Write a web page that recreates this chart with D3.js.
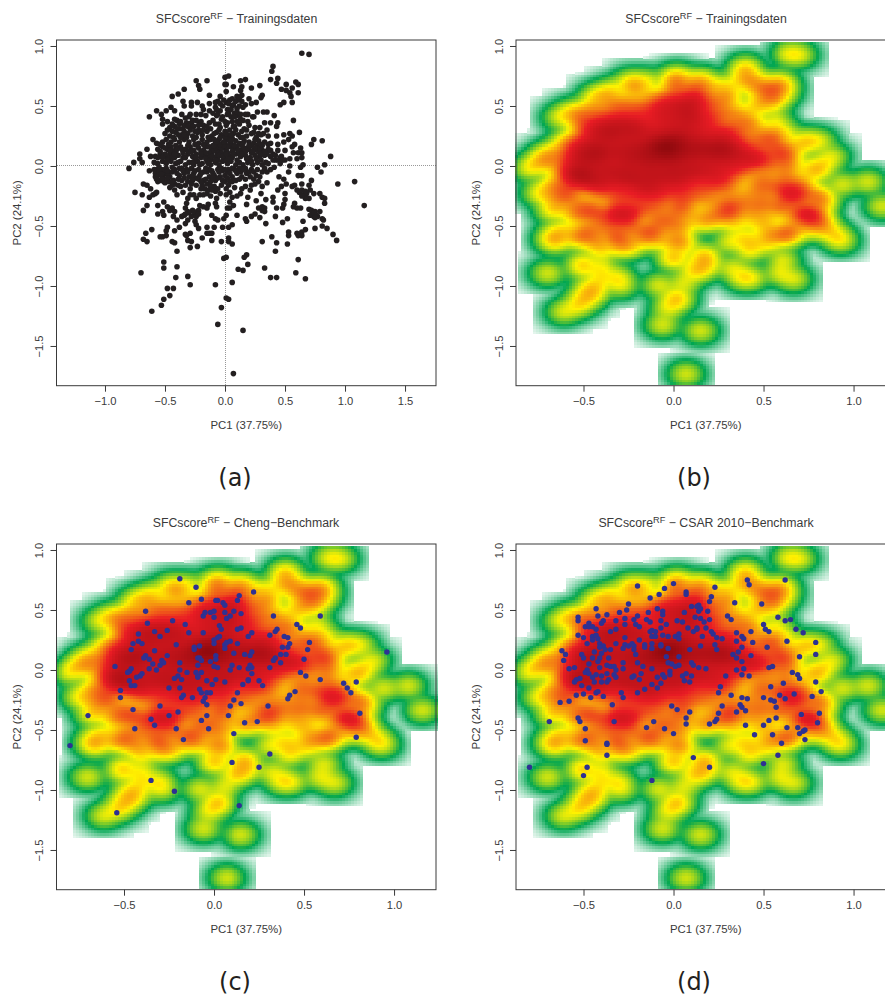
<!DOCTYPE html>
<html>
<head>
<meta charset="utf-8">
<script src="https://d3js.org/d3.v7.min.js"></script>
<style>
body { margin: 0; background: #fff; }
svg { display: block; }
text { font-family: "Liberation Sans", Arial, sans-serif; fill: #3a3a3a; }
.axis text { font-size: 11.2px; }
.axis line { stroke: #3a3a3a; }
.axis path { display: none; }
.title { font-size: 12.3px; }
.tag { font-family: "DejaVu Sans", sans-serif; font-size: 24px; fill: #231f20; }
</style>
</head>
<body>
<div id="chart"></div>
<script>
// PC1, PC2 of the training set
const trainPoints = [
[-.24,.71],[-.15,.71],[-.22,.67],[-.21,.64],[-.34,.64],[-.39,.6],[-.44,.58],[-.13,.59],[0,.74],[.03,.75],[0,.68],[-.63,.41],[-.57,.46],[-.49,.46],[-.45,.49],[-.42,.46],[-.53,.43],[-.52,.39],[-.48,.37],[-.52,.35],[-.35,.54],[-.34,.5],[-.28,.53],[-.28,.5],[-.23,.53],[-.36,.43],[-.29,.43],[-.3,.41],[-.24,.43],[-.19,.5],[-.18,.47],[-.2,.43],[-.13,.52],[-.08,.49],[-.04,.58],[-.06,.54],[-.01,.55],[-.08,.53],[-.4,.38],[-.42,.33],[-.38,.35],[-.32,.36],[-.35,.31],[-.29,.32],[-.28,.36],[-.21,.36],[-.16,.42],
[-.8,-.02],[-.76,.03],[-.71,.1],[-.71,.06],[-.69,.03],[-.65,.14],[-.62,.08],[-.6,.22],[-.57,.19],[-.63,-.04],[-.57,-.03],[-.58,-.09],[-.56,-.13],[-.5,-.14],[-.68,-.15],[-.65,-.16],[-.62,-.19],[-.75,-.22],[-.69,-.24],[-.58,-.23],[-.63,-.26],[-.6,-.24],[-.57,-.22],
[.4,.83],[.39,.79],[.38,.72],[.44,.73],[.43,.69],[.51,.68],[.47,.64],[.51,.63],[.56,.65],[.59,.7],[.61,.68],[.61,.61],[.54,.61],[.55,.58],[.49,.53],[.46,.51],[.56,.53],[.57,.38],[.62,.28],[.81,.21],[.74,.22],[.72,.18],[.29,.67],[.22,.65],[.17,.72],[.13,.71],[.14,.66],[.07,.66],[.01,.68],[.01,.62],[.13,.63],[.14,.59],[.2,.56],[.31,.59],[.3,.57],[.26,.53],[.22,.52],[.17,.51],[.15,.49],[.1,.58],[.11,.55],[.07,.51],[.04,.55],[.01,.53],
[.32,.45],[.35,.45],[.27,.45],[.41,.42],[.24,.41],[.19,.43],[.17,.43],[.08,.44],[.33,.36],[.38,.36],[.44,.36],[.29,.32],[.43,.33],[.35,.3],[.28,.27],[.36,.25],[.32,.27],[.43,.25],[.49,.26],[.54,.27],[.56,.25],[.49,.2],[.53,.22],[.44,.18],[.58,.18],[.56,.16],[.63,.15],[.44,.13],[.5,.13],[.38,.19],[.36,.18],[.57,.11],[.61,.11],[.64,.11],[.64,.07],[.6,.06],[.54,.06],[.5,.05],[.46,.07],[.42,.05],[.65,.01],[.63,-.01],[.83,.01],[.77,-.01],[.88,.08],
[.64,.94],[.7,.93],[.8,-.05],[.94,-.15],[1.08,-.13],[1.16,-.33],[.72,-.12],
[-.68,-.37],[-.65,-.33],[-.56,-.33],[-.56,-.4],[-.52,-.38],[-.51,-.41],[-.51,-.3],[-.48,-.34],[-.46,-.37],[-.44,-.35],[-.42,-.38],[-.43,-.42],[-.4,-.45],[-.36,-.42],[-.34,-.41],[-.31,-.27],[-.29,-.19],[-.26,-.24],[-.24,-.27],[-.21,-.24],[-.17,-.19],[-.15,-.23],[-.14,-.2],[-.32,-.31],[-.33,-.35],[-.31,-.38],[-.27,-.37],[-.25,-.4],[-.22,-.37],[-.21,-.33],[-.18,-.34],[-.14,-.32],[-.15,-.35],[-.08,-.31],[-.07,-.34],[-.07,-.27],[-.08,-.21],[-.09,-.17],[-.06,-.19],[.01,-.19],[.01,-.24],[.06,-.26],[.04,-.3],[.07,-.33],[.04,-.35],[.02,-.35],[-.11,-.41],[-.08,-.44],[-.06,-.45],[-.01,-.44],[.01,-.41],[.1,-.41],[.17,-.44],[.18,-.46],[.22,-.42],[.25,-.4],[.29,-.43],[.18,-.32],[.19,-.26],[.26,-.29],[.34,-.28],[.28,-.35],[.31,-.34],[.31,-.37],[.33,-.35],[.33,-.38],[.42,-.42],[.34,-.48],[.43,-.35],[.48,-.35],[.49,-.32],[.4,-.26],[.4,-.3],[.5,-.28],[.5,-.23],[.44,-.2],[.47,-.17],[.51,-.15],[.56,-.17],[.58,-.16],[.64,-.15],[.7,-.16],[.64,-.08],[.61,-.08],[.53,-.05],[.54,0],[.45,-.09],[.49,-.11],
[.64,-.2],[.68,-.23],[.71,-.2],[.74,-.23],[.7,-.27],[.67,-.27],[.79,-.23],[.81,-.26],[.83,-.27],[.83,-.31],[.58,-.31],[.57,-.34],[.6,-.35],[.63,-.35],[.7,-.36],[.72,-.37],[.75,-.38],[.79,-.38],[.71,-.41],[.74,-.42],[.77,-.42],[.81,-.44],[.82,-.45],[.65,-.46],[.81,-.5],[.85,-.52],[.9,-.57],[.93,-.62],[.52,-.44],[.48,-.47],[.75,-.52],[.67,-.53],[.64,-.55],[.6,-.56],[.61,-.58],[.64,-.58],[.53,-.55],[.53,-.58],[.39,-.59],[.31,-.63],[.43,-.64],[.52,-.65],[.42,-.71],[.61,-.78],[.18,-.74],[.16,-.76],[.19,-.82],[.33,-.85],[.11,-.86],[.15,-.87],[.06,-.49],[.03,-.51],
[-.02,-.51],[-.09,-.51],[-.15,-.51],[-.22,-.52],[-.24,-.49],[-.25,-.46],[-.31,-.45],[-.33,-.48],[-.38,-.51],[-.42,-.54],[-.48,-.51],[-.49,-.54],[-.49,-.58],[-.52,-.59],[-.54,-.59],[-.61,-.53],[-.66,-.56],[-.68,-.61],[-.65,-.63],[-.33,-.57],[-.29,-.56],[-.32,-.58],[-.31,-.62],[-.28,-.63],[-.19,-.6],[-.15,-.56],[-.13,-.56],[-.11,-.56],[-.11,-.62],[-.03,-.63],[.03,-.6],[.03,-.63],[.06,-.65],[-.44,-.63],[-.42,-.64],[-.29,-.68],[-.23,-.67],[-.4,-.71],[-.51,-.8],[-.51,-.85],[-.4,-.84],[-.01,-.77],[.01,-.76],
[-.7,-.89],[-.41,-.93],[-.31,-.92],[-.29,-.99],[-.08,-.99],[.06,-.97],[-.48,-1.02],[-.43,-1.02],[-.46,-1.08],[-.51,-1.11],[-.53,-1.16],[-.61,-1.21],[.01,-1.1],[.03,-1.11],[-.03,-1.18],[-.06,-1.32],[.15,-1.37],[.07,-1.73],[.38,-.93],[.43,-.93],[.59,-.89],[.67,-.94],
[-.58,-.06],[-.56,-.08],[-.54,-.12],[-.53,-.03],[-.5,-.06],[-.49,-.02],[-.46,-.09],[-.43,-.12],[-.47,-.13],[-.51,-.13],[-.42,-.15],[-.38,-.08],[-.36,-.12],[-.39,-.16],[-.44,-.16],[-.42,-.2],[-.4,-.24],[-.42,-.03],[-.38,-.02],[-.32,-.03],[-.28,-.02],[-.26,-.06],[-.24,-.1],[-.26,-.1],[-.21,-.08],[-.18,-.12],[-.15,-.05],[-.13,-.09],[-.1,-.06],[-.08,-.12],[-.04,-.09],[-.06,-.03],[0,-.08],[.06,-.09],[.1,-.06],[.14,-.09],[.13,-.05],[.18,-.06],[.22,-.03],[.21,-.09],[.26,-.08],[.31,-.05],[.33,-.02],[.38,-.03],[.28,-.13],[.22,-.16],[.21,-.2],[.14,-.19],[.13,-.23],[.31,-.17],[.3,-.23],[.06,-.13],[0,-.13],[-.19,-.16],[-.15,-.15],[-.34,-.06],[-.3,-.09],[-.02,-.04],[.03,-.03],[.08,-.03],
// solid core of the cloud
[-.42,.39],[-.33,.4],[-.27,.38],[-.2,.37],[-.13,.36],[-.07,.42],[-.03,.39],[.02,.43],[.06,.37],[.1,.42],[.13,.39],[.19,.37],[.23,.41],
[-.46,.32],[-.38,.31],[-.34,.34],[-.26,.33],[-.22,.3],[-.18,.34],[-.12,.31],[-.08,.35],[-.04,.32],[.01,.34],[.04,.3],[.08,.33],[.12,.35],[.16,.31],[.2,.34],[.25,.32],
[-.5,.27],[-.46,.25],[-.41,.28],[-.36,.26],[-.31,.27],[-.27,.25],[-.23,.28],[-.19,.26],[-.15,.29],[-.11,.25],[-.07,.28],[-.03,.26],[0,.29],[.03,.25],[.07,.27],[.11,.26],[.14,.29],[.18,.25],[.22,.27],[.26,.24],[.3,.26],
[-.52,.2],[-.49,.22],[-.45,.2],[-.42,.22],[-.38,.2],[-.34,.22],[-.3,.2],[-.26,.22],[-.22,.19],[-.19,.22],[-.15,.2],[-.12,.22],[-.08,.19],[-.05,.22],[-.01,.2],[.02,.22],[.05,.19],[.09,.21],[.12,.19],[.16,.21],[.2,.2],[.24,.19],[.28,.21],[.33,.2],
[-.56,.14],[-.52,.16],[-.48,.14],[-.45,.16],[-.41,.14],[-.37,.16],[-.33,.14],[-.29,.16],[-.26,.13],[-.22,.15],[-.18,.13],[-.15,.16],[-.11,.14],[-.08,.16],[-.05,.13],[-.02,.15],[.01,.13],[.04,.16],[.07,.14],[.1,.16],[.13,.13],[.16,.15],[.2,.14],[.24,.13],[.27,.15],[.31,.13],[.36,.14],
[-.58,.08],[-.54,.1],[-.5,.08],[-.46,.1],[-.42,.07],[-.39,.09],[-.35,.07],[-.31,.1],[-.27,.08],[-.24,.1],[-.2,.07],[-.17,.09],[-.14,.07],[-.11,.1],[-.07,.08],[-.04,.1],[-.01,.07],[.03,.09],[.06,.07],[.09,.1],[.13,.08],[.17,.09],[.21,.07],[.25,.09],[.29,.08],[.33,.09],[.38,.08],
[-.56,.02],[-.52,.04],[-.49,.02],[-.45,.04],[-.41,.02],[-.37,.04],[-.33,.01],[-.3,.03],[-.26,.01],[-.23,.04],[-.19,.02],[-.15,.04],[-.12,.01],[-.08,.03],[-.05,.01],[-.02,.04],[.02,.02],[.05,.04],[.09,.01],[.12,.03],[.15,.01],[.19,.03],[.23,.01],[.27,.03],[.31,.01],[.34,.03],
[-.25,.05],[-.2,.12],[-.16,.06],[-.13,.11],[-.1,.17],[-.07,.12],[-.06,.05],[-.03,.18],[-.03,.11],[-.01,.16],[.01,.05],[.02,.11],[.04,.18],[.06,.12],[-.17,.17],[-.12,.05],[-.09,.22],[-.04,.24],[0,.24],[.06,.23],[-.3,.12],[-.35,.11],[-.41,.11],[-.25,.18],[.12,.11],[.17,.12],[.22,.11],[.02,.36],[.05,.41],[.02,.47],[-.04,.46],[.06,.5],[.1,.48],[-.1,.44],[-.13,.46],
// overlapping dots in the middle of the solid area
[-.47,.07],[-.43,.12],[-.39,.03],[-.36,.14],[-.33,.07],[-.31,.17],[-.28,.12],[-.27,.03],[-.24,.07],[-.23,.17],[-.21,.01],[-.2,.1],[-.18,.18],[-.16,.11],[-.14,.02],[-.13,.16],[-.11,.08],[-.09,.13],[-.08,.05],[-.06,.18],[-.05,.09],[-.02,.08],[0,.19],[.01,.1],[.02,.16],[.03,.06],[.05,.21],[.07,.1],[.08,.17],[.1,.05],[.11,.13],[.14,.1],[.15,.19],[.18,.06],[.19,.15],[.22,.17],[.26,.06],[.28,.12],[.31,.17],[-.41,.17],[-.46,.13],[-.37,.24],[-.32,.24],[-.24,.24],[-.2,.29],[-.14,.24],[-.09,.27],[-.05,.3],[.01,.27],[.05,.26],[.09,.3],[.13,.24],[-.44,-.01],[-.4,-.06],[-.36,-.02],[-.31,-.05],[-.27,-.08],[-.22,-.03],[-.18,-.05],[-.13,-.03],[-.09,-.08],[-.03,-.02],[.02,-.05],[.06,-.02],[.12,-.02],[.17,-.02],[.24,-.05],
[-.07,.15],[-.05,.16],[-.03,.15],[-.01,.17],[-.09,.17],[-.04,.18],[-.07,.2],[-.01,.2],
[-.55,-.05],[-.52,-.09],[-.5,-.03],[-.47,-.07],[-.5,.1],[-.48,.05],[-.44,.07],[-.42,.1],[-.4,.14],[.27,.17],[.25,.15],[.29,.15],[.23,.12],[.3,.1],[.35,.1],[.4,.1],[.44,.05],[.47,.08],
[-.05,.35],[-.02,.41],[0,.37],[.03,.44],[.05,.47],[.08,.41],[.1,.45],[.12,.5],[.09,.54],[.06,.56],[.12,.57],[.14,.54],[.03,.52],[-.02,.5],[-.06,.43],[-.1,.38],[-.04,.52],[-.07,.47],[.13,.43],[.1,.37],[.07,.33],[.15,.38],
[-.44,.35],[-.4,.31],[-.37,.37],[-.34,.29],[-.31,.33],[-.44,.29],[-.48,.3],[-.39,.26],[-.34,.26],[-.29,.3],[-.25,.29],[-.22,.34],[-.24,.38],[-.18,.3],[-.15,.33],[-.47,.18],[-.43,.24],[-.5,.15],[-.54,.18],[-.54,.12],[-.52,.07],[-.56,.07],[-.59,.03],[-.55,-.01],
[-.59,-.03],[-.53,-.07],[-.48,-.04],[-.44,-.05],[-.35,-.04],[-.25,-.04],[-.2,-.06],[-.16,-.02],[-.11,-.04],[-.05,-.05],[0,-.03],[.04,-.06],[.09,-.04],[.15,-.03],[.2,-.05],[.27,-.03],[.35,-.05],[.41,-.01],
[-.57,-.11],[-.52,-.11],[-.48,-.1],[-.44,-.13],[-.39,-.11],[-.34,-.1],[-.31,-.13],[-.27,-.12],[-.22,-.11],[-.2,-.13],[-.16,-.11],[-.12,-.13],[-.1,-.1],[-.06,-.1],[-.02,-.12],[.02,-.1],[.04,-.13],[.09,-.12],[.12,-.11],[.17,-.11],[.24,-.11],[.29,-.09],
[-.46,-.18],[-.37,-.17],[-.33,-.16],[-.28,-.15],[-.24,-.16],[-.2,-.19],[-.12,-.17],[-.11,-.2],[-.03,-.16],[.03,-.16],[.08,-.18],[.17,-.17],[.25,-.15],[.35,-.14],
[-.35,-.22],[-.29,-.24],[-.18,-.24],[-.12,-.25],[-.04,-.23],[.04,-.22],[.1,-.25],
[.22,.04],[.3,.05],[.36,.02],[.4,.05],[.33,.12],[.38,.13],[.42,.09],[.46,.02],[.48,.05],[.25,.22],[.3,.18],[.2,.17],[.15,.24],[.18,.3],[.24,.28],[.14,.17],
[-.3,-.39],[-.28,-.42],[-.26,-.38],[-.24,-.42],[-.22,-.4],[-.33,-.4],[.62,-.22],[.65,-.24],[.67,-.21],[.6,-.2],[.64,-.25],[.74,-.39],[.76,-.41],[.75,-.43]
];

// Cheng benchmark, panel (c)
const chengPoints = [
[-.19,.76],[-.1,.69],[.14,.62],[.13,.58],[-.14,.56],[-.07,.59],[-.38,.49],[-.37,.39],[-.23,.41],[-.16,.38],[-.26,.33],[-.33,.32],[-.3,.28],[-.42,.3],[-.42,.24],[-.45,.22],[-.4,.22],[-.46,.17],[-.33,.16],[-.38,.12],[-.39,.1],[-.36,.09],[-.26,.12],[-.29,.08],[-.28,.06],[-.34,.05],[-.36,.01],[-.3,.04],[-.32,0],[-.55,.03],[-.46,.01],[-.47,-.01],[-.48,-.02],[-.4,-.03],[-.41,-.05],[-.43,-.06],[-.47,-.09],[-.46,-.13],[-.44,-.13],[-.52,-.17],[-.52,-.23],
[-.14,.31],[-.06,.31],[-.21,.21],[-.11,.19],[-.08,.2],[-.11,.17],[-.19,.06],[-.09,.1],[-.08,.1],[-.07,.08],[-.09,.04],[-.02,.07],[.01,.12],[.01,.09],[0,.03],[.02,.02],[-.19,0],[-.15,-.02],[-.1,-.02],[-.07,-.02],[-.09,-.05],[-.2,-.05],[-.22,-.07],[-.18,-.08],[-.09,-.06],[-.25,-.15],[-.19,-.15],[-.08,-.16],[-.07,-.19],[-.04,-.09],[-.01,-.12],[.01,-.08],[-.04,-.19],[-.02,-.19],[-.17,-.21],[-.18,-.23],[-.12,-.23],[-.05,-.23],[-.06,-.26],[-.04,-.29],[-.3,-.3],[-.45,-.33],[-.7,-.38],[-.25,-.38],[-.2,-.35],[-.35,-.41],[-.33,-.46],[-.44,-.49],[-.21,-.49],[-.07,-.42],[-.04,-.38],[-.03,-.49],[-.17,-.58],[-.8,-.63],[.11,-.53],[.17,-.44],[.08,-.38],[.09,-.3],[.11,-.25],[.15,-.28],[.13,-.19],[.06,-.1],[.16,-.12],[.19,-.08],
[-.06,.45],[-.05,.48],[-.02,.48],[0,.49],[.01,.58],[.02,.58],[.05,.56],[.06,.54],[.06,.48],[.11,.49],[.15,.47],[.07,.43],[.09,.45],[0,.44],[.03,.37],[.04,.34],[.13,.34],[.15,.35],[.19,.28],[.03,.28],[.02,.27],[0,.25],[0,.22],[.06,.21],[.06,.18],[.07,.23],[.09,.24],[.13,.22],[.11,.14],[.17,.13],[.2,.12],[.1,.04],[.09,0],[.14,.02],[.19,.01],[.21,.02],
[.22,.65],[.33,.45],[.59,.45],[.46,.38],[.48,.35],[.21,.31],[.31,.29],[.35,.34],[.34,.32],[.39,.28],[.41,.27],[.53,.23],[.38,.19],[.41,.19],[.42,.22],[.52,.17],[.21,.15],[.37,.13],[.4,.13],[.34,.1],[.33,.08],[.37,.06],[.5,.09],[.31,.02],[.2,.04],[.21,-.03],[.48,-.02],[.51,-.05],[.59,-.08],[.25,-.09],[.19,-.09],[.27,-.13],[.45,-.18],[.42,-.21],[.41,-.24],[.3,-.3],[.24,-.43],[.31,-.7],[.1,-.77],[.25,-.81],[.14,-1.13],[.96,.15],[.72,-.11],[.74,-.15],[.76,-.19],[.79,-.1],[.81,-.36],[.79,-.56],[-.35,-.92],[-.22,-1.01],[-.54,-1.19]
];

// CSAR 2010 benchmark, panel (d)
const csarPoints = [
[-.2,.7],[0,.72],[-.05,.68],[-.08,.63],[-.13,.6],[.07,.65],[-.25,.55],[-.43,.51],[.07,.63],[-.09,.51],[-.14,.48],[-.06,.49],[-.06,.46],[.06,.48],[.1,.53],[.14,.54],[.14,.49],[-.37,.46],[-.42,.45],[-.3,.48],[-.26,.5],[-.27,.43],[-.32,.41],[-.39,.41],[-.4,.39],[-.53,.44],[-.53,.41],[-.47,.39],[-.49,.36],[-.47,.36],[-.45,.36],[-.43,.34],[-.27,.38],[-.22,.42],[-.2,.45],[-.21,.38],[-.19,.36],[-.15,.42],[-.13,.4],[-.07,.41],[-.04,.38],[-.07,.35],[.02,.41],[.05,.4],[.12,.44],[.08,.35],[.13,.34],[.11,.32],
[-.35,.32],[-.32,.34],[-.53,.29],[-.5,.27],[-.48,.22],[-.45,.28],[-.43,.29],[-.42,.26],[-.45,.25],[-.41,.22],[-.39,.2],[-.38,.17],[-.41,.19],[-.32,.22],[-.27,.27],[-.27,.21],[-.28,.18],[-.25,.2],[-.23,.22],[-.22,.2],[-.22,.17],[-.19,.25],[-.16,.21],[-.16,.19],[-.13,.32],[-.12,.33],[-.1,.32],[-.12,.28],[-.1,.28],[-.06,.29],[-.12,.22],[-.12,.18],[-.07,.21],[-.07,.2],[-.03,.28],[-.03,.18],[.01,.28],[.03,.3],[.03,.26],[.09,.17],
[-.62,.16],[-.6,.13],[-.61,.08],[-.51,.13],[-.5,.1],[-.44,.15],[-.45,.1],[-.4,.14],[-.41,.1],[-.42,.07],[-.36,.1],[-.35,.17],[-.47,.05],[-.58,.01],[-.55,.02],[-.48,0],[-.49,-.02],[-.52,-.07],[-.54,-.08],[-.55,-.1],[-.47,-.03],[-.45,-.06],[-.44,-.1],[-.43,-.04],[-.4,-.1],[-.4,-.05],[-.37,-.03],[-.37,-.1],[-.36,-.08],[-.41,.02],[-.37,.04],[-.35,.03],[-.33,.03],[-.32,0],[-.33,-.04],[-.32,-.06],[-.28,.06],[-.28,.01],[-.21,.13],[-.2,.06],[-.17,.03],[-.12,.01],[-.18,-.03],[-.22,-.05],[-.23,-.06],[-.19,-.08],[-.03,.06],[-.04,.11],[-.01,.05],[.03,.11],[.03,.04],[.01,.03],[-.02,-.01],[-.02,-.04],[-.09,-.06],[-.06,-.04],[-.05,-.06],[.06,-.09],[.05,-.05],[.07,-.03],[.1,-.05],[.09,-.1],[.1,.06],[.11,.04],[.14,.02],
[-.51,-.13],[-.47,-.15],[-.54,-.21],[-.5,-.2],[-.43,-.19],[-.42,-.18],[-.46,-.23],[-.39,-.22],[-.29,-.19],[-.28,-.23],[-.2,-.19],[-.16,-.16],[-.12,-.12],[-.07,-.11],[-.09,-.15],[-.63,-.27],[-.58,-.26],[-.34,-.29],[-.01,-.3],[.02,-.33],[.09,-.35],[.07,-.4],[.07,-.45],[-.69,-.43],[-.53,-.4],[-.52,-.43],[-.49,-.49],[-.33,-.43],[-.11,-.43],[-.15,-.48],[-.05,-.49],[0,-.53],[-.49,-.59],[-.37,-.61],[-.37,-.62],[-.37,-.71],[.11,-.73],[-.8,-.81],[-.48,-.81],[-.5,-.88],[-.12,-.92],
[.23,.69],[.41,.75],[.42,.71],[.62,.75],[.21,.61],[.2,.57],[.34,.56],[.49,.55],[.13,.53],[.15,.51],[.19,.49],[.15,.43],[.17,.4],[.2,.42],[.13,.35],[.18,.35],[.21,.32],[.22,.3],[.16,.28],[.24,.27],[.27,.26],[.3,.45],[.32,.42],[.58,.44],[.62,.41],[.65,.42],[.5,.38],[.51,.34],[.53,.32],[.43,.32],[.35,.31],[.38,.28],[.39,.26],[.35,.24],[.44,.23],[.68,.34],[.72,.31],[.63,.24],[.79,.23],[.79,.13],[.52,.19],[.38,.19],[.23,.21],[.24,.17],[.15,.2],[.33,.13],[.36,.15],[.35,.1],[.38,.07],[.43,.12],[.7,.11],[.18,.01],[.35,0],[.39,.01],[.38,-.04],[.42,-.05],[.53,.02],[.55,.03],[.66,-.02],[.69,-.04],[.7,-.07],[.79,-.1],[.29,-.05],[.26,-.14],[.25,-.19],[.32,-.21],[.38,-.23],[.41,-.24],[.54,-.14],[.61,-.11],[.59,-.21],[.67,-.2],[.5,-.23],[.54,-.25],[.56,-.26],[.62,-.24],[.57,-.31],[.77,-.22],[.82,-.18],[.27,-.3],[.37,-.29],[.38,-.31],[.4,-.34],[.25,-.36],[.35,-.35],[.71,-.37],[.81,-.36],[.8,-.44],[.57,-.4],[.53,-.42],[.5,-.46],[.4,-.46],[.24,-.41],[.23,-.43],[.2,-.45],[.63,-.48],[.69,-.48],[.73,-.5],[.72,-.51],[.7,-.53],[.73,-.58],[.55,-.54],[.45,-.54],[.6,-.61],[.58,-.71],[.5,-.78],[.2,-.81]
];

const xTicksWide = [-1, -0.5, 0, 0.5, 1, 1.5];
const xTicksNarrow = [-0.5, 0, 0.5, 1];
const yTicks = [-1.5, -1, -0.5, 0, 0.5, 1];

const panelTitles = ["Trainingsdaten", "Trainingsdaten", "Cheng\u2212Benchmark", "CSAR 2010\u2212Benchmark"];
const panelTags = ["(a)", "(b)", "(c)", "(d)"];

const densityColors = ["#ffffff", "#00a651", "#fff200", "#e91c24", "#930a0e"];

const width = 885, height = 995;
const xDomainWide = [-1.404, 1.758], xDomainNarrow = [-0.875, 1.233], yDomain = [-1.831, 1.05];
const boxW = 379.5, boxH = 345.7;

const svg = d3.select("#chart").append("svg")
    .attr("width", width)
    .attr("height", height)
    .attr("viewBox", "0 0 " + width + " " + height);

const color = d3.scaleLinear()
    .domain([0, 0.25, 0.5, 0.75, 1])
    .range(densityColors)
    .clamp(true);

// smoothed density of the training set on a 128 x 128 grid, 4th root as in smoothScatter
const bwX = 0.048, bwY = 0.054, gridN = 128;
const gridX = d3.extent(trainPoints, d => d[0]).map((v, i) => v + (i ? 1.5 : -1.5) * bwX);
const gridY = d3.extent(trainPoints, d => d[1]).map((v, i) => v + (i ? 1.5 : -1.5) * bwY);
const stepX = (gridX[1] - gridX[0]) / (gridN - 1), stepY = (gridY[1] - gridY[0]) / (gridN - 1);

const grid = new Float64Array(gridN * gridN);
trainPoints.forEach(function(p) {
    const i0 = Math.max(0, Math.ceil((p[0] - 3.4 * bwX - gridX[0]) / stepX));
    const i1 = Math.min(gridN - 1, Math.floor((p[0] + 3.4 * bwX - gridX[0]) / stepX));
    const j0 = Math.max(0, Math.ceil((p[1] - 3.4 * bwY - gridY[0]) / stepY));
    const j1 = Math.min(gridN - 1, Math.floor((p[1] + 3.4 * bwY - gridY[0]) / stepY));
    for (let i = i0; i <= i1; i++) {
        for (let j = j0; j <= j1; j++) {
            const dx = (gridX[0] + i * stepX - p[0]) / bwX, dy = (gridY[0] + j * stepY - p[1]) / bwY;
            grid[j * gridN + i] += Math.exp(-0.5 * (dx * dx + dy * dy));
        }
    }
});
const gridMax = d3.max(grid);
const cells = [];
for (let j = 0; j < gridN; j++) {
    for (let i = 0; i < gridN; i++) {
        const v = grid[j * gridN + i];
        if (v > 0) cells.push({x: gridX[0] + i * stepX, y: gridY[0] + j * stepY, z: Math.pow(v / gridMax, 0.25)});
    }
}

function drawPanel(left, top, idx, xDomain, xTicks, points, pointColor, titleX) {
    const x = d3.scaleLinear().domain(xDomain).range([left, left + boxW]);
    const y = d3.scaleLinear().domain(yDomain).range([top + boxH, top]);
    const g = svg.append("g");

    if (idx === 0) {
        g.append("line").attr("x1", x(0)).attr("x2", x(0)).attr("y1", top).attr("y2", top + boxH)
            .attr("stroke", "#999").attr("stroke-dasharray", "1,1").attr("shape-rendering", "crispEdges");
        g.append("line").attr("x1", left).attr("x2", left + boxW).attr("y1", y(0)).attr("y2", y(0))
            .attr("stroke", "#999").attr("stroke-dasharray", "1,1").attr("shape-rendering", "crispEdges");
    } else {
        g.append("g").attr("shape-rendering", "crispEdges").selectAll("rect")
            .data(cells)
            .join("rect")
            .attr("x", d => x(d.x - stepX / 2))
            .attr("y", d => y(d.y + stepY / 2))
            .attr("width", x(stepX) - x(0) + 0.5)
            .attr("height", y(0) - y(stepY) + 0.5)
            .attr("fill", d => color(d.z));
    }

    g.append("g").selectAll("circle")
        .data(points)
        .join("circle")
        .attr("cx", d => x(d[0]))
        .attr("cy", d => y(d[1]))
        .attr("r", idx === 0 ? 2.8 : 2.7)
        .attr("fill", pointColor);

    g.append("rect")
        .attr("x", left).attr("y", top)
        .attr("width", boxW).attr("height", boxH)
        .attr("fill", "none").attr("stroke", "#3a3a3a");

    g.append("g")
        .attr("class", "axis")
        .attr("transform", "translate(0," + (top + boxH) + ")")
        .call(d3.axisBottom(x).tickValues(xTicks).tickFormat(d3.format(".1f")).tickSize(6).tickPadding(5));

    const yAxis = g.append("g")
        .attr("class", "axis")
        .attr("transform", "translate(" + left + ",0)")
        .call(d3.axisLeft(y).tickValues(yTicks).tickFormat(d3.format(".1f")).tickSize(6));
    yAxis.selectAll("text")
        .attr("x", 0)
        .attr("dy", "0.32em")
        .attr("transform", "translate(-17,0) rotate(-90)")
        .style("text-anchor", "middle");

    g.append("text")
        .attr("x", left + boxW / 2)
        .attr("y", top + boxH + 43)
        .attr("text-anchor", "middle")
        .style("font-size", "11.4px")
        .text("PC1 (37.75%)");

    g.append("text")
        .attr("transform", "translate(" + (left - 36) + "," + (top + boxH / 2) + ") rotate(-90)")
        .attr("text-anchor", "middle")
        .style("font-size", "11.4px")
        .text("PC2 (24.1%)");

    const title = g.append("text")
        .attr("class", "title")
        .attr("x", titleX)
        .attr("y", top - 17)
        .attr("text-anchor", "middle");
    title.append("tspan").text("SFCscore");
    title.append("tspan").attr("dy", -4.5).style("font-size", "9.2px").text("RF");
    title.append("tspan").attr("dy", 4.5).text(" \u2212 " + panelTitles[idx]);

    g.append("text")
        .attr("class", "tag")
        .attr("x", idx % 2 === 0 ? 235 : 694)
        .attr("y", top + boxH + 100)
        .attr("text-anchor", "middle")
        .text(panelTags[idx]);
}

drawPanel(56.5, 40, 0, xDomainWide, xTicksWide, trainPoints, "#231f20", 236.5);
drawPanel(516, 40, 1, xDomainNarrow, xTicksNarrow, [], "none", 706);
drawPanel(56.5, 544, 2, xDomainNarrow, xTicksNarrow, chengPoints, "#2e3192", 246);
drawPanel(516, 544, 3, xDomainNarrow, xTicksNarrow, csarPoints, "#2e3192", 706);
</script>
</body>
</html>
